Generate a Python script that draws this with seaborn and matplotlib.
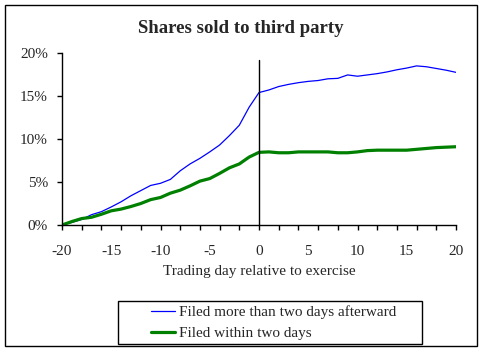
import numpy as np
import pandas as pd
import matplotlib
matplotlib.use("Agg")
import matplotlib.pyplot as plt
import seaborn as sns
from matplotlib.ticker import PercentFormatter, MultipleLocator
from matplotlib.patches import Rectangle

# Cumulative share of sales to third party (%), by trading day relative to exercise
days = list(range(-20, 21))
filed_late = [0.0, 0.3, 0.65, 1.2, 1.55, 2.1, 2.7, 3.4, 4.0, 4.6, 4.85,
              5.3, 6.3, 7.1, 7.75, 8.5, 9.3, 10.4, 11.6, 13.7, 15.4,
              15.7, 16.1, 16.35, 16.55, 16.7, 16.8, 17.0, 17.05, 17.45, 17.3,
              17.45, 17.6, 17.8, 18.05, 18.25, 18.5, 18.4, 18.2, 18.0, 17.75]
filed_early = [0.0, 0.4, 0.75, 0.9, 1.25, 1.65, 1.85, 2.15, 2.5, 2.95, 3.2,
               3.7, 4.05, 4.55, 5.1, 5.4, 6.0, 6.65, 7.1, 7.9, 8.45,
               8.5, 8.4, 8.4, 8.5, 8.5, 8.5, 8.5, 8.4, 8.4, 8.5,
               8.65, 8.7, 8.7, 8.7, 8.7, 8.8, 8.9, 9.0, 9.05, 9.1]

df = pd.DataFrame({"day": days, "late": filed_late, "early": filed_early})

sns.set_style("white")
plt.rcParams["font.family"] = ["Liberation Serif", "DejaVu Serif"]

fig = plt.figure(figsize=(4.83, 3.53), dpi=100)
ax = fig.add_axes([62 / 483, 1 - 225 / 353, (456 - 62) / 483, (225 - 53) / 353])

sns.lineplot(data=df, x="day", y="late", color="#0000FF", lw=0.9,
             label="Filed more than two days afterward", ax=ax)
sns.lineplot(data=df, x="day", y="early", color="#008000", lw=2.3,
             label="Filed within two days", ax=ax)
ax.axvline(0, ymin=0, ymax=0.96, color="black", lw=1)

ax.set_xlim(-20, 20)
ax.set_ylim(0, 20)
ax.yaxis.set_major_locator(MultipleLocator(5))
ax.yaxis.set_major_formatter(PercentFormatter(xmax=100, decimals=0))
# tick marks every 2 days, labels every 5 days
ax.xaxis.remove_overlapping_locs = False
ax.set_xticks(range(-20, 21, 2))
ax.set_xticklabels([])
ax.set_xticks(range(-20, 21, 5), minor=True)
ax.set_xticklabels([str(v) for v in range(-20, 21, 5)], minor=True)
ax.tick_params(axis="x", which="major", direction="out", length=3.6, width=1,
               color="black", bottom=True)
ax.tick_params(axis="x", which="minor", length=0, pad=14.4, labelsize=11)
ax.tick_params(axis="y", direction="out", length=3.6, width=1, color="black",
               left=True, labelsize=11, pad=6.5)

for side in ["top", "right"]:
    ax.spines[side].set_visible(False)
for side in ["left", "bottom"]:
    ax.spines[side].set_color("black")
    ax.spines[side].set_linewidth(1)

ax.set_xlabel("Trading day relative to exercise", fontsize=11, labelpad=5)
ax.set_ylabel("")

ax.get_legend().remove()
handles, labels = ax.get_legend_handles_labels()
leg = fig.legend(handles, labels, loc="upper left",
                 bbox_to_anchor=(151 / 483, 1 - 305.5 / 353),
                 frameon=False, fontsize=11,
                 handlelength=1.6, handletextpad=0.25, borderpad=0,
                 labelspacing=0.45, borderaxespad=0)

# legend box
fig.patches.append(Rectangle((118 / 483, 1 - 344 / 353), 304 / 483, 43 / 353,
                             transform=fig.transFigure, fill=False,
                             edgecolor="black", lw=1))

fig.text(241 / 483, 1 - 28.5 / 353, "Shares sold to third party", ha="center",
         va="center", fontsize=13.5, fontweight="bold")

# chart border
fig.patches.append(Rectangle((5 / 483, 1 - 346 / 353), 472 / 483, 341 / 353,
                             transform=fig.transFigure, fill=False,
                             edgecolor="black", lw=1))

fig.savefig("out.png", dpi=100)
